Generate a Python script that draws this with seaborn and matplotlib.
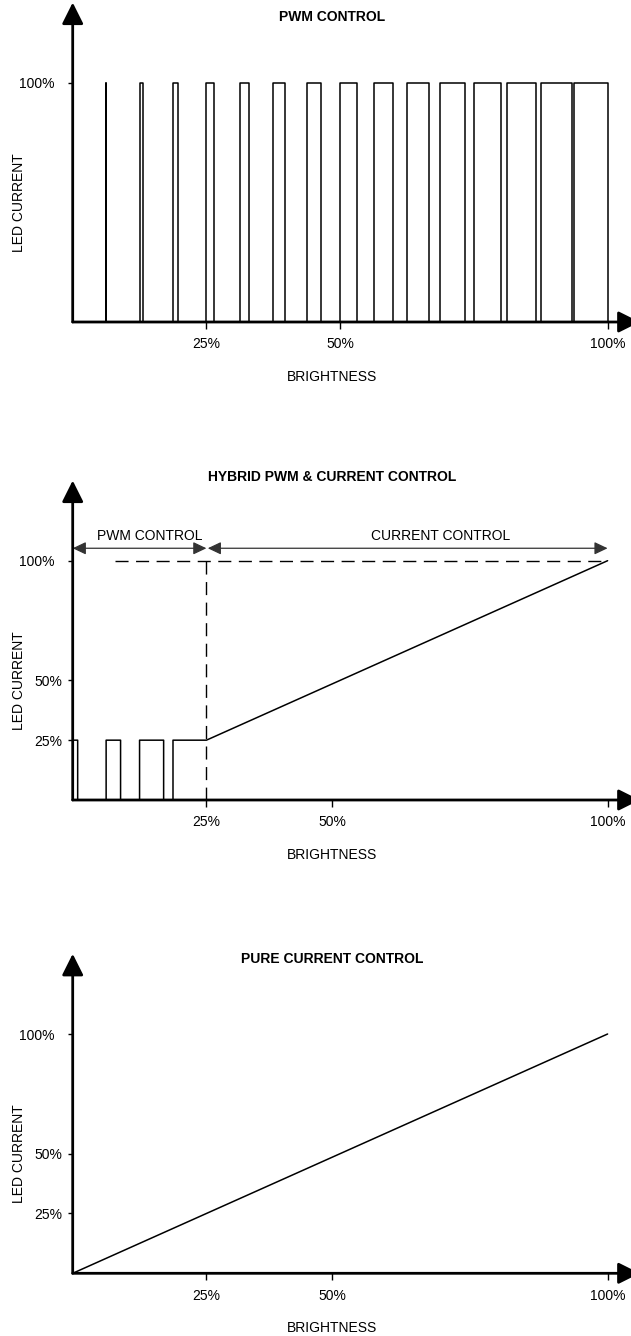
import matplotlib
matplotlib.use("Agg")
import matplotlib.pyplot as plt
from matplotlib.patches import FancyArrowPatch
from matplotlib.transforms import ScaledTranslation
import seaborn as sns
import pandas as pd

sns.set_style("white")
plt.rcParams['font.family'] = ['Liberation Sans', 'DejaVu Sans']
plt.rcParams['font.size'] = 10
plt.rcParams['text.color'] = 'black'

# ---- data: brightness (%) vs LED current (%) ----
# pure PWM control: pulse start and on-time (in brightness %), always full current
pwm_starts = [6.25, 12.5, 18.75, 25, 31.25, 37.5, 43.75, 50,
              56.25, 62.5, 68.75, 75, 81.25, 87.5, 93.75]
pwm_widths = [0.0, 0.55, 0.95, 1.35, 1.8, 2.25, 2.75, 3.1,
              3.6, 4.05, 4.55, 5.0, 5.35, 5.8, 6.25]
pwm_level = 100

# hybrid: PWM at 25% current below 25% brightness, then current ramp
hyb_starts = [0, 6.25, 12.5, 18.75]
hyb_widths = [0.93, 2.7, 4.5, 6.25]
hyb_level = 25
ramp_brightness = [25, 100]
ramp_current = [25, 100]
pwm_limit = 25          # brightness where PWM hands over to current control
dash_start = 8          # where the 100% dashed guide starts

# pure current control
cc_brightness = [0, 100]
cc_current = [0, 100]

# tick positions / labels
xticks_top = [25, 50, 100]
xticks_low = [25, 48.5, 100]
xtick_labels = ['25%', '50%', '100%']
yticks_top = [100]
yticks_low = [25, 50, 100]

titles = ['PWM CONTROL', 'HYBRID PWM & CURRENT CONTROL', 'PURE CURRENT CONTROL']

# ---- layout (pixels) ----
W, H = 631, 1336
X0 = 72.7                   # x pixel of the origin
ORIGINS = [322, 800, 1273.3]  # y pixel of the origin for each panel
TITLE_Y = [16.7, 477.3, 959]
PX_X, PX_Y = 5.349, 2.393   # pixels per percent
XMAX, YMAX = 106, 133.5


def pulse_train(starts, widths, level):
    xs, ys = [0], [0]
    for s, w in zip(starts, widths):
        xs += [s, s, s + w, s + w]
        ys += [0, level, level, 0]
    return xs, ys


def axis_arrow(ax, p0, p1, style, lw, color):
    ax.add_patch(FancyArrowPatch(p0, p1, arrowstyle=style, mutation_scale=1,
                                 lw=lw, color=color, shrinkA=0, shrinkB=0,
                                 clip_on=False, zorder=5))


fig = plt.figure(figsize=(W / 100, H / 100), dpi=100)

axes = []
for y0 in ORIGINS:
    ax = fig.add_axes([X0 / W, (H - y0) / H, XMAX * PX_X / W, YMAX * PX_Y / H])
    ax.set_xlim(0, XMAX)
    ax.set_ylim(0, YMAX)
    for s in ax.spines.values():
        s.set_visible(False)
    axes.append(ax)

# panel 1: PWM
x1, y1 = pulse_train(pwm_starts, pwm_widths, pwm_level)
df1 = pd.DataFrame({'brightness': x1, 'current': y1})
sns.lineplot(data=df1, x='brightness', y='current', sort=False, estimator=None,
             color='black', lw=1.1, ax=axes[0])

# panel 2: hybrid
x2, y2 = pulse_train(hyb_starts, hyb_widths, hyb_level)
x2, y2 = x2[:-1] + ramp_brightness[1:], y2[:-1] + ramp_current[1:]
df2 = pd.DataFrame({'brightness': x2, 'current': y2})
sns.lineplot(data=df2, x='brightness', y='current', sort=False, estimator=None,
             color='black', lw=1.1, ax=axes[1])
dash = (0, (9.4, 5.4))
axes[1].plot([dash_start, ramp_brightness[-1]], [ramp_current[-1]] * 2,
             ls=dash, lw=1, color='black')
axes[1].plot([pwm_limit, pwm_limit], [ramp_current[-1], 0],
             ls=dash, lw=1, color='black')
ann_y = 105.2
grey = '#333333'
axis_arrow(axes[1], (0, ann_y), (pwm_limit, ann_y),
           '<|-|>,head_length=8,head_width=3.8', 0.9, grey)
axis_arrow(axes[1], (pwm_limit + 0.25, ann_y), (100, ann_y),
           '<|-|>,head_length=8,head_width=3.8', 0.9, grey)
axes[1].text(14.4, 110.3, 'PWM CONTROL', ha='center', va='center', fontsize=10)
axes[1].text(68.7, 110.3, 'CURRENT CONTROL', ha='center', va='center', fontsize=10)

# panel 3: pure current
df3 = pd.DataFrame({'brightness': cc_brightness, 'current': cc_current})
sns.lineplot(data=df3, x='brightness', y='current', sort=False, estimator=None,
             color='black', lw=1.1, ax=axes[2])

for i, ax in enumerate(axes):
    ax.set_xlabel('')
    ax.set_ylabel('')
    ax.set_xticks(xticks_top if i == 0 else xticks_low, xtick_labels)
    yt = yticks_top if i == 0 else yticks_low
    ax.set_yticks(yt, [f'{v}%' for v in yt])
    ax.tick_params(axis='x', bottom=True, length=5, width=1, pad=6,
                   color='black', labelcolor='black', labelsize=10)
    ax.tick_params(axis='y', left=True, length=3.3, width=1, pad=4.3,
                   color='black', labelcolor='black', labelsize=10)
    for lbl in ax.get_yticklabels():
        if lbl.get_text() == '100%':
            lbl.set_transform(lbl.get_transform() +
                              ScaledTranslation(-0.08, 0, fig.dpi_scale_trans))
    # axes with arrowheads
    axis_arrow(ax, (0, 0), (0, YMAX), '-|>,head_length=13,head_width=6.5', 2, 'black')
    axis_arrow(ax, (0, 0), (XMAX, 0), '-|>,head_length=13,head_width=6.5', 2, 'black')

    y0 = ORIGINS[i]
    fig.text(332 / W, 1 - TITLE_Y[i] / H, titles[i], ha='center', va='center',
             fontsize=10, fontweight='bold')
    fig.text(18.7 / W, 1 - (y0 - 50 * PX_Y) / H, 'LED CURRENT', rotation=90,
             ha='center', va='center', fontsize=10)
    fig.text(332 / W, 1 - (y0 + 55) / H, 'BRIGHTNESS', ha='center', va='center',
             fontsize=10)

fig.savefig('out.png', dpi=100)
